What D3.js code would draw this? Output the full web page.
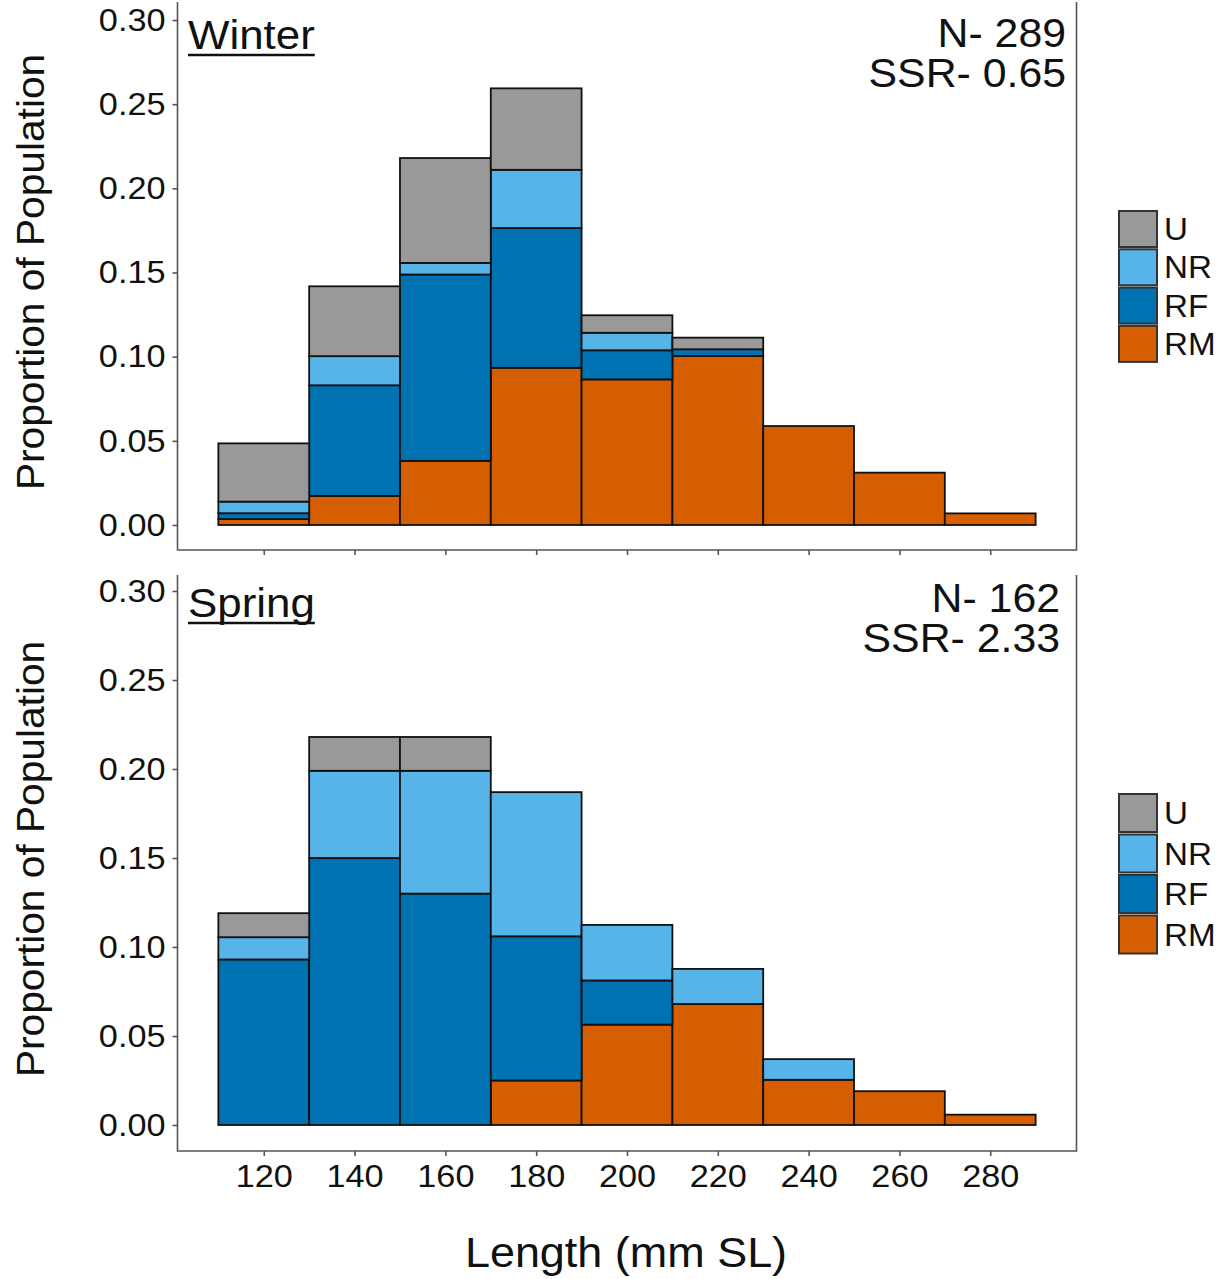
<!DOCTYPE html>
<html>
<head>
<meta charset="utf-8">
<script src="https://cdn.jsdelivr.net/npm/d3@7"></script>
<style>
  body { margin: 0; background: #fff; }
  text { font-family: "Liberation Sans", Arial, sans-serif; fill: #111; }
</style>
</head>
<body>
<script>
// length bins (mm SL), 20 mm wide
var binStart = [110, 130, 150, 170, 190, 210, 230, 250, 270];
var binWidth = 20;
var groups = ["RM", "RF", "NR", "U"]; // stacking order, bottom to top
var legendOrder = ["U", "NR", "RF", "RM"];
var colors = { U: "#999999", NR: "#56B4E9", RF: "#0072B2", RM: "#D55E00" };

var xTicks = [120, 140, 160, 180, 200, 220, 240, 260, 280];
var yTicks = [0, 0.05, 0.10, 0.15, 0.20, 0.25, 0.30];

// Winter, proportion of population per bin
var winterRM = [0.0035, 0.0173, 0.0381, 0.0934, 0.0865, 0.1004, 0.0588, 0.0311, 0.0069];
var winterRF = [0.0035, 0.0657, 0.1107, 0.0830, 0.0173, 0.0040, 0, 0, 0];
var winterNR = [0.0069, 0.0173, 0.0069, 0.0346, 0.0104, 0, 0, 0, 0];
var winterU  = [0.0346, 0.0415, 0.0623, 0.0484, 0.0104, 0.0069, 0, 0, 0];

// Spring
var springRM = [0, 0, 0, 0.0250, 0.0564, 0.0680, 0.0254, 0.0190, 0.0058];
var springRF = [0.0930, 0.1500, 0.1300, 0.0810, 0.0248, 0, 0, 0, 0];
var springNR = [0.0125, 0.0490, 0.0690, 0.0810, 0.0312, 0.0197, 0.0116, 0, 0];
var springU  = [0.0135, 0.0190, 0.0190, 0, 0, 0, 0, 0, 0];

var panels = [
  { title: "Winter", n: "N- 289", ssr: "SSR- 0.65",
    RM: winterRM, RF: winterRF, NR: winterNR, U: winterU,
    top: 2, bottom: 550, y0: 525, y30: 20, labels: false,
    titleDy: 29, noteDy: 27, noteX: 1066,
    legendTop: 211, legendStep: 38.3, keyH: 36 },
  { title: "Spring", n: "N- 162", ssr: "SSR- 2.33",
    RM: springRM, RF: springRF, NR: springNR, U: springU,
    top: 575, bottom: 1151, y0: 1125, y30: 591, labels: true,
    titleDy: 26, noteDy: 21, noteX: 1060,
    legendTop: 794, legendStep: 40.5, keyH: 38 }
];

var width = 1225, height = 1279;
var left = 177.5, right = 1076.5;
var stretchF = 1.07;

// the reference glyphs run a little wider than Liberation Sans
function stretch(sel) {
  sel.each(function () {
    var w = this.getComputedTextLength();
    d3.select(this).attr("textLength", w * stretchF).attr("lengthAdjust", "spacingAndGlyphs");
  });
  return sel;
}

var svg = d3.select("body").append("svg")
  .attr("width", width)
  .attr("height", height);

svg.append("rect").attr("width", width).attr("height", height).attr("fill", "#fff");

var x = d3.scaleLinear().domain([101, 299]).range([left, right]);
var axisColor = "#555";

panels.forEach(function (p) {
  var y = d3.scaleLinear().domain([0, 0.30]).range([p.y0, p.y30]);

  var rows = binStart.map(function (b, i) {
    var r = { bin: b };
    groups.forEach(function (g) { r[g] = p[g][i]; });
    return r;
  });
  var series = d3.stack().keys(groups)(rows);

  var g = svg.append("g");

  series.forEach(function (s) {
    g.selectAll(null)
      .data(s.filter(function (d) { return d[1] - d[0] > 0; }))
      .enter()
      .append("rect")
      .attr("x", function (d) { return x(d.data.bin); })
      .attr("width", function (d) { return x(d.data.bin + binWidth) - x(d.data.bin); })
      .attr("y", function (d) { return y(d[1]); })
      .attr("height", function (d) { return y(d[0]) - y(d[1]); })
      .attr("fill", colors[s.key])
      .attr("stroke", "#111")
      .attr("stroke-width", 1.8);
  });

  // frame: left, bottom, right
  g.append("path")
    .attr("d", "M" + left + "," + p.top + "V" + p.bottom + "H" + right + "V" + p.top)
    .attr("fill", "none")
    .attr("stroke", axisColor)
    .attr("stroke-width", 1.6);

  // y axis
  var yAxis = d3.axisLeft(y).tickValues(yTicks).tickSize(5).tickPadding(7)
    .tickFormat(d3.format(".2f"));
  var ya = g.append("g").attr("transform", "translate(" + left + ",0)").call(yAxis);
  ya.select(".domain").remove();
  ya.selectAll(".tick line").attr("stroke", axisColor).attr("stroke-width", 1.6);
  stretch(ya.selectAll(".tick text").style("font-size", "32px").attr("fill", "#111"));

  // x axis
  var xAxis = d3.axisBottom(x).tickValues(xTicks).tickSize(5).tickPadding(8);
  if (!p.labels) xAxis.tickFormat("");
  var xa = g.append("g").attr("transform", "translate(0," + p.bottom + ")").call(xAxis);
  xa.select(".domain").remove();
  xa.selectAll(".tick line").attr("stroke", axisColor).attr("stroke-width", 1.6);
  if (p.labels) stretch(xa.selectAll(".tick text").style("font-size", "32px").attr("fill", "#111"));

  // y title
  stretch(g.append("text")
    .attr("transform", "translate(44," + ((p.top + p.bottom) / 2 - 4) + ") rotate(-90)")
    .attr("text-anchor", "middle")
    .style("font-size", "38px")
    .text("Proportion of Population"));

  // panel title, underlined
  var t = stretch(g.append("text")
    .attr("x", 188)
    .attr("y", y(0.30) + p.titleDy)
    .style("font-size", "41px")
    .text(p.title));
  var tw = +t.attr("textLength");
  g.append("line")
    .attr("x1", 188).attr("x2", 188 + tw)
    .attr("y1", y(0.30) + p.titleDy + 6).attr("y2", y(0.30) + p.titleDy + 6)
    .attr("stroke", "#111").attr("stroke-width", 2.5);

  // N and SSR
  stretch(g.append("text")
    .attr("x", p.noteX).attr("y", y(0.30) + p.noteDy)
    .attr("text-anchor", "end")
    .style("font-size", "40px")
    .text(p.n));
  stretch(g.append("text")
    .attr("x", p.noteX).attr("y", y(0.30) + p.noteDy + 40)
    .attr("text-anchor", "end")
    .style("font-size", "40px")
    .text(p.ssr));

  // legend
  var lg = g.append("g").attr("transform", "translate(1119," + p.legendTop + ")");
  legendOrder.forEach(function (k, i) {
    lg.append("rect")
      .attr("x", 0).attr("y", i * p.legendStep)
      .attr("width", 38).attr("height", p.keyH)
      .attr("fill", colors[k])
      .attr("stroke", "#333").attr("stroke-width", 2);
    stretch(lg.append("text")
      .attr("x", 45).attr("y", i * p.legendStep + p.keyH / 2 + 11)
      .style("font-size", "31px")
      .text(k));
  });
});

stretch(svg.append("text")
  .attr("x", 626).attr("y", 1267)
  .attr("text-anchor", "middle")
  .style("font-size", "42px")
  .text("Length (mm SL)"));
</script>
</body>
</html>
